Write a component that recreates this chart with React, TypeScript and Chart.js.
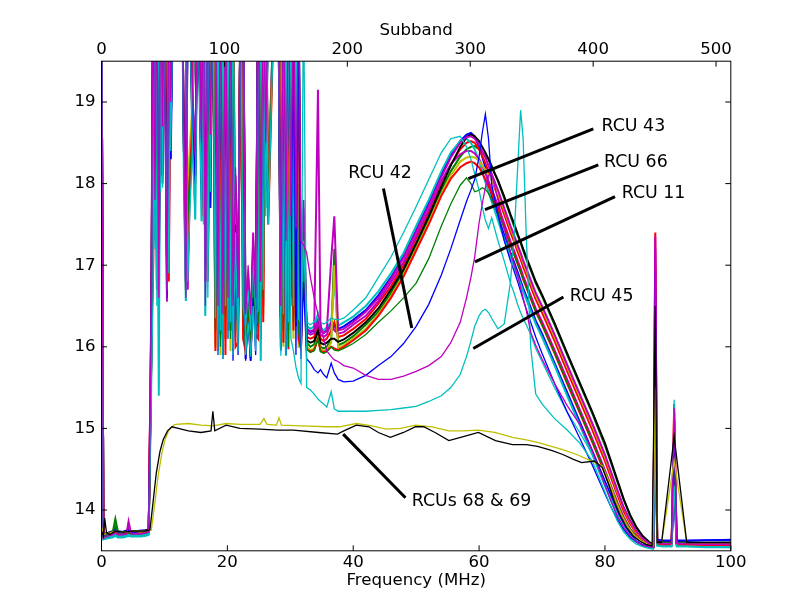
import React, { useEffect, useRef } from "react";
import { Chart, registerables } from "chart.js";

Chart.register(...registerables);

// value used for points that lie above the plotted range (RFI spikes)
const H = 20.5;

// ---- shared frequency grid (MHz) ----
const GRID_LOW = [0, 0.3, 1.0, 1.8, 2.2, 2.6, 3.4, 4.0, 4.3, 4.7, 5.5, 6.3, 7.0, 7.5];
const GRID_RFI1 = [7.9, 8.2, 8.5, 8.8, 9.1, 9.4, 9.7, 10.0, 10.4, 10.7, 11.0, 11.4, 11.8, 12.8, 13.1, 13.4, 13.7, 14.0, 14.4, 14.9, 15.3, 15.9, 16.2, 16.5, 16.9, 17.3, 17.7];
const GRID_RFI2 = [18.1, 18.5, 18.9, 19.3, 19.7, 20.1, 20.5, 20.9, 21.3, 21.7, 22.1, 22.5, 22.9, 23.3, 23.7, 24.1, 24.5, 24.9, 25.3, 25.7, 26.1, 26.5, 27.5, 28.1, 28.5, 28.9, 29.3, 29.7, 30.1, 30.5, 30.9, 31.3, 31.7, 32.1, 32.6, 33.2, 33.8, 34.4, 34.8, 35.3, 35.8, 36.5, 37.0, 37.6];
const GRID_BAND = [38.5, 40, 42, 44, 46, 48, 50, 52, 54, 55.5, 57, 58, 58.7, 59.3, 60, 60.5, 61, 61.5, 62, 63, 64, 65, 65.6, 66.2, 66.6, 67.0, 67.5, 68.2, 69, 70, 72, 74, 76, 78, 80, 81, 82, 83, 84, 85, 86, 87, 87.7, 88.0, 88.3, 89, 90.6, 91.0, 91.4, 93, 96, 100];
const FREQ = [...GRID_LOW, ...GRID_RFI1, ...GRID_RFI2, ...GRID_BAND];

// ---- typical RCUs (power, log units) ----
const RCU_01 = [
  H, 13.7, 13.72, 13.74, 13.78, 13.74, 13.73, 13.75, 13.76, 13.74, 13.74, 13.75, 13.75, 13.76,
  15.9, H, 17.8, H, 16.9, H, 18.1, H, 16.6, H, 18.3, H, H, H, 18.4, 17.2, H, H, 19.1, 18.3, H, 18.2, H, 17.1, H, 17.7, H,
  H, 16.0, H, 15.9, H, 16.2, H, 15.95, 17.9, 16.05, H, H, 15.85, 16.5, 15.83, 16.9, 16.1, H, 16.4, H, 17.9, H, H, H, 16.1, H, 16.05, H, 16.8, H, 16.25, H, 16.2, 17.4, 16.22, 16.18, 16.2, 16.35, 16.2, 16.17, 16.2, 16.3, 16.25, 16.22,
  16.25, 16.33, 16.45, 16.63, 16.85, 17.11, 17.43, 17.76, 18.12, 18.35, 18.52, 18.6, 18.62, 18.58, 18.45, 18.33, 18.2, 18.0, 17.85, 17.6, 17.37, 17.15, 17.03, 16.9, 16.81, 16.72, 16.62, 16.48, 16.32, 16.16, 15.8, 15.44, 15.08, 14.72, 14.35, 14.17, 13.98, 13.82, 13.7, 13.62, 13.57, 13.55, 13.55, 15.8, 13.63, 13.62, 13.62, 14.2, 13.62, 13.62, 13.63, 13.63,
];
const RCU_02 = [
  H, 13.68, 13.71, 13.73, 13.89, 13.74, 13.72, 13.73, 13.78, 13.73, 13.73, 13.74, 13.74, 13.75,
  15.7, 17.5, H, 16.8, H, 18.5, H, H, H, 17.4, H, H, H, H, H, H, 16.9, 18.3, 18.6, H, H, H, 18.1, H, 17.0, H, H,
  16.3, H, 16.1, H, 16.4, H, 16.2, H, 16.5, 16.4, H, 16.6, 16.2, 16.7, 16.1, 17.3, 16.4, 16.5, H, 16.9, H, 18.0, H, H, H, 16.3, H, 16.4, H, 16.6, H, 16.3, 16.05, 17.6, 16.05, 16.0, 16.03, 16.2, 16.0, 15.98, 16.0, 16.1, 17.2, 16.02,
  16.05, 16.13, 16.27, 16.43, 16.66, 16.93, 17.23, 17.57, 17.92, 18.15, 18.33, 18.42, 18.45, 18.46, 18.42, 18.38, 18.35, 18.3, 18.22, 18.03, 17.82, 17.6, 17.47, 17.35, 17.27, 17.18, 17.07, 16.94, 16.78, 16.62, 16.27, 15.9, 15.54, 15.18, 14.79, 14.57, 14.34, 14.12, 13.93, 13.78, 13.67, 13.6, 13.56, 16.6, 13.61, 13.6, 13.6, 14.9, 13.6, 13.6, 13.6, 13.6,
];
const RCU_03 = [
  H, 13.67, 13.69, 13.71, 13.73, 13.71, 13.71, 13.72, 13.73, 13.72, 13.72, 13.72, 13.73, 13.74,
  16.1, H, 17.9, H, 16.7, H, 18.7, H, 17.1, H, 19.0, H, H, H, 18.5, 16.7, H, H, 18.8, 18.0, H, 18.3, H, 16.8, H, 18.4, H,
  H, 15.95, H, 16.0, H, 16.3, H, 16.1, 18.0, 16.2, H, H, 16.0, 16.5, 15.95, 16.9, 16.2, H, 16.4, H, 18.0, H, H, H, 15.97, H, 16.1, H, 16.9, H, 16.3, H, 16.15, 17.5, 16.12, 16.1, 16.12, 16.3, 16.1, 16.07, 16.1, 16.2, 16.3, 16.12,
  16.14, 16.22, 16.34, 16.53, 16.74, 17.0, 17.33, 17.65, 18.0, 18.23, 18.42, 18.5, 18.52, 18.5, 18.42, 18.34, 18.25, 18.15, 18.05, 17.84, 17.62, 17.4, 17.28, 17.15, 17.07, 16.98, 16.88, 16.74, 16.58, 16.42, 16.07, 15.7, 15.34, 14.98, 14.6, 14.39, 14.18, 13.98, 13.83, 13.71, 13.63, 13.58, 13.56, 17.4, 13.59, 13.58, 13.58, 15.2, 13.58, 13.58, 13.57, 13.57,
];
const RCU_04 = [
  H, 13.64, 13.66, 13.67, 13.69, 13.67, 13.67, 13.68, 13.69, 13.68, 13.68, 13.68, 13.69, 13.7,
  15.5, H, 17.3, H, 15.4, H, 18.0, H, 16.8, H, 18.6, H, H, H, 18.0, 16.56, H, H, 18.7, 17.56, H, 17.54, H, 16.38, H, 18.0, H,
  H, 16.2, H, 16.1, H, 16.3, H, 16.0, 17.5, 16.2, H, H, 16.0, 16.5, 16.0, 16.9, 16.2, H, 15.83, H, 17.7, H, H, H, 16.0, H, 15.89, H, 16.6, H, 16.3, H, 16.25, 17.2, 16.26, 16.22, 16.25, 16.4, 16.24, 16.2, 16.24, 16.3, 16.8, 16.26,
  16.3, 16.37, 16.5, 16.68, 16.9, 17.15, 17.48, 17.8, 18.15, 18.38, 18.52, 18.55, 18.5, 18.42, 18.28, 18.15, 18.02, 17.9, 17.78, 17.55, 17.32, 17.1, 16.98, 16.85, 16.77, 16.68, 16.58, 16.44, 16.28, 16.12, 15.77, 15.4, 15.04, 14.68, 14.3, 14.12, 13.94, 13.79, 13.68, 13.61, 13.56, 13.54, 13.54, 15.4, 13.57, 13.56, 13.56, 14.4, 13.56, 13.56, 13.55, 13.55,
];
const RCU_05 = [
  H, 13.66, 13.68, 13.7, 13.72, 13.7, 13.7, 13.72, 13.86, 13.71, 13.71, 13.71, 13.72, 13.73,
  16.3, 17.0, H, 16.7, H, 18.1, H, H, H, 16.9, H, H, H, H, H, H, 16.7, 17.8, 18.6, H, H, H, 17.7, H, 16.8, H, H,
  16.2, H, 16.4, H, 16.1, H, 16.5, H, 17.2, 16.3, H, 16.7, 16.2, 16.8, 16.1, 17.2, 16.4, 16.3, H, 16.5, H, 17.9, H, H, H, 16.2, H, 16.5, H, 16.4, H, 16.3, 16.2, 17.7, 16.18, 16.15, 16.17, 16.3, 16.15, 16.12, 16.15, 16.3, 16.2, 16.16,
  16.18, 16.27, 16.38, 16.56, 16.79, 17.04, 17.36, 17.68, 18.03, 18.24, 18.36, 18.4, 18.4, 18.37, 18.3, 18.22, 18.13, 18.03, 17.93, 17.73, 17.51, 17.29, 17.17, 17.04, 16.96, 16.87, 16.77, 16.63, 16.47, 16.31, 15.96, 15.6, 15.23, 14.87, 14.49, 14.29, 14.09, 13.91, 13.77, 13.67, 13.61, 13.57, 13.55, 17.2, 13.6, 13.59, 13.59, 15.0, 13.59, 13.59, 13.59, 13.58,
];
const RCU_06 = [
  H, 13.69, 13.71, 13.72, 13.75, 13.72, 13.72, 13.73, 13.74, 13.73, 13.73, 13.73, 13.74, 13.75,
  16.0, 18.2, H, 17.0, H, 18.6, H, H, H, 17.6, H, H, H, H, H, H, 17.3, 18.4, 18.9, H, H, H, 17.9, H, 17.4, H, H,
  16.0, H, 15.9, H, 16.1, H, 15.95, H, 16.4, 16.1, H, 16.3, 15.9, 16.4, 15.95, 16.7, 16.1, 16.2, H, 16.4, H, 17.6, H, H, H, 16.0, H, 16.2, H, 16.1, H, 16.0, 16.0, 17.2, 16.0, 15.96, 15.98, 16.1, 15.97, 15.95, 15.97, 16.05, 17.0, 15.98,
  16.02, 16.1, 16.22, 16.4, 16.62, 16.88, 17.2, 17.52, 17.87, 18.1, 18.27, 18.32, 18.33, 18.32, 18.28, 18.22, 18.17, 18.1, 18.05, 17.88, 17.67, 17.45, 17.33, 17.2, 17.12, 17.03, 16.93, 16.79, 16.63, 16.47, 16.12, 15.75, 15.39, 15.03, 14.65, 14.44, 14.22, 14.02, 13.86, 13.73, 13.64, 13.59, 13.56, 16.0, 13.6, 13.59, 13.59, 14.7, 13.59, 13.59, 13.59, 13.59,
];
const RCU_07 = [
  H, 13.7, 13.72, 13.73, 13.76, 13.73, 13.73, 13.74, 13.75, 13.74, 13.74, 13.74, 13.75, 13.76,
  15.8, H, 17.9, H, 17.0, H, 18.6, H, 17.5, H, 18.7, H, H, H, 18.4, 17.3, H, H, 18.9, 18.1, H, 18.0, H, 17.0, H, 18.2, H,
  H, 16.35, H, 16.3, H, 16.5, H, 16.35, 17.8, 16.4, H, H, 16.3, 16.7, 16.2, 17.1, 16.4, H, 16.6, H, 18.2, H, H, H, 16.35, H, 16.3, H, 17.0, H, 16.35, H, 16.1, 17.6, 16.08, 16.05, 16.07, 16.2, 16.05, 16.03, 16.05, 16.1, 16.1, 16.06,
  16.09, 16.17, 16.3, 16.47, 16.7, 16.95, 17.27, 17.6, 17.96, 18.22, 18.45, 18.57, 18.6, 18.58, 18.52, 18.45, 18.38, 18.3, 18.2, 18.04, 17.84, 17.62, 17.5, 17.37, 17.29, 17.2, 17.1, 16.96, 16.8, 16.64, 16.29, 15.92, 15.56, 15.2, 14.82, 14.59, 14.36, 14.13, 13.94, 13.79, 13.68, 13.61, 13.57, 15.6, 13.61, 13.6, 13.6, 14.5, 13.6, 13.6, 13.6, 13.6,
];
const RCU_08 = [
  H, 13.66, 13.68, 13.7, 13.72, 13.7, 13.7, 13.71, 13.72, 13.71, 13.71, 13.71, 13.72, 13.73,
  16.2, 16.9, H, 17.2, H, 18.2, H, H, H, 16.8, H, H, H, H, H, H, 17.0, 18.0, 18.7, H, H, H, 17.6, H, 16.9, H, H,
  15.95, H, 16.15, H, 15.9, H, 16.2, H, 16.0, 16.05, H, 16.1, 15.95, 16.5, 15.9, 16.8, 16.15, 16.1, H, 16.3, H, 17.5, H, H, H, 16.05, H, 15.97, H, 16.2, H, 16.1, 15.98, 17.3, 15.97, 15.94, 15.96, 16.1, 15.95, 15.93, 15.95, 16.0, 15.98, 15.96,
  16.0, 16.08, 16.2, 16.38, 16.6, 16.86, 17.18, 17.5, 17.85, 18.06, 18.2, 18.25, 18.27, 18.25, 18.2, 18.13, 18.05, 17.97, 17.88, 17.68, 17.47, 17.25, 17.13, 17.0, 16.92, 16.83, 16.73, 16.59, 16.43, 16.27, 15.92, 15.55, 15.19, 14.83, 14.45, 14.25, 14.06, 13.89, 13.76, 13.67, 13.61, 13.57, 13.55, 17.0, 13.59, 13.58, 13.58, 15.3, 13.58, 13.58, 13.57, 13.57,
];
const RCU_09 = [
  H, 13.65, 13.67, 13.69, 13.71, 13.69, 13.69, 13.7, 13.8, 13.7, 13.7, 13.7, 13.71, 13.72,
  16.4, H, 17.8, H, 16.6, H, 18.5, H, 16.7, H, 18.8, H, H, H, 18.4, 16.8, H, H, 19.1, 18.3, H, 18.3, H, 16.8, H, 18.4, H,
  H, 16.4, H, 16.3, H, 16.6, H, 16.4, 18.1, 16.5, H, H, 16.3, 16.9, 16.2, 17.4, 16.5, H, 16.7, H, 18.4, H, H, H, 16.4, H, 16.4, H, 17.2, H, 16.45, H, 16.25, 17.8, 16.22, 16.19, 16.21, 19.15, 16.2, 16.17, 16.2, 17.07, 17.6, 16.2,
  16.22, 16.3, 16.43, 16.6, 16.83, 17.09, 17.41, 17.73, 18.08, 18.32, 18.5, 18.57, 18.58, 18.55, 18.48, 18.4, 18.32, 18.22, 18.12, 17.92, 17.7, 17.48, 17.36, 17.23, 17.15, 17.06, 16.96, 16.82, 16.66, 16.5, 16.15, 15.78, 15.42, 15.06, 14.68, 14.46, 14.24, 14.03, 13.87, 13.74, 13.65, 13.59, 13.56, 17.35, 13.6, 13.59, 13.59, 15.1, 13.59, 13.59, 13.58, 13.58,
];

// ---- labelled RCUs ----
const RCU_43 = [
  H, 13.67, 13.69, 13.71, 13.8, 13.71, 13.7, 13.71, 13.72, 13.71, 13.71, 13.71, 13.72, 13.73,
  15.8, 17.8, H, 17.1, H, 18.4, H, H, H, 17.3, H, H, H, H, H, H, 17.5, 18.1, 18.5, H, H, H, 17.8, H, 16.9, H, H,
  16.2, H, 16.0, H, 16.35, H, 16.1, H, 16.6, 16.2, H, 16.4, 16.0, 16.5, 16.05, 16.9, 16.2, 16.3, H, 16.6, H, 17.7, H, H, H, 16.2, H, 16.0, H, 16.3, H, 16.2, 15.98, 17.4, 15.97, 15.93, 15.95, 16.1, 15.94, 15.92, 15.94, 16.0, 15.96, 15.95,
  15.98, 16.04, 16.15, 16.3, 16.44, 16.6, 16.78, 17.08, 17.48, 17.75, 17.98, 18.07, 18.0, 17.9, 17.92, 17.95, 17.93, 17.88, 17.8, 17.65, 17.45, 17.24, 17.12, 17.0, 16.92, 16.83, 16.73, 16.59, 16.43, 16.27, 15.92, 15.56, 15.2, 14.84, 14.47, 14.28, 14.08, 13.9, 13.77, 13.67, 13.61, 13.57, 13.55, 16.4, 13.6, 13.6, 13.6, 14.8, 13.6, 13.6, 13.6, 13.6,
];
const RCU_66 = [
  H, 13.65, 13.67, 13.68, 13.7, 13.68, 13.68, 13.69, 13.7, 13.69, 13.69, 13.69, 13.7, 13.71,
  15.6, 16.6, H, 16.5, H, 17.9, H, H, H, 16.9, H, H, H, H, H, H, 16.8, 17.6, 18.3, H, H, H, 17.5, H, 16.6, H, H,
  16.35, H, 16.2, H, 16.5, H, 16.3, H, 16.9, 16.35, H, 16.5, 16.25, 16.7, 16.2, 17.1, 16.4, 16.45, H, 16.7, H, 17.5, H, H, H, 16.4, H, 16.3, H, 16.5, H, 16.35, 16.3, 17.3, 16.3, 16.27, 16.3, 16.4, 16.3, 16.28, 16.3, 16.35, 16.34, 16.33,
  16.35, 16.45, 16.6, 16.85, 17.1, 17.4, 17.72, 18.05, 18.38, 18.55, 18.58, 18.45, 18.3, 18.12, 17.92, 17.72, 17.55, 17.45, 17.58, 17.3, 17.05, 16.78, 16.65, 16.5, 16.42, 16.35, 16.27, 16.15, 15.98, 15.82, 15.5, 15.2, 14.95, 14.68, 14.3, 14.1, 13.9, 13.76, 13.66, 13.6, 13.56, 13.54, 13.53, 15.0, 13.56, 13.55, 13.55, 15.35, 13.55, 13.55, 13.55, 13.54,
];
const RCU_42 = [
  H, 13.69, 13.71, 13.73, 13.76, 13.73, 13.72, 13.74, 13.75, 13.73, 13.73, 13.74, 13.74, 13.75,
  15.9, H, 17.6, H, 16.8, H, 18.0, H, 16.56, H, 18.3, H, H, H, 18.2, 16.9, H, H, 18.8, 18.0, H, 17.8, H, 16.9, H, 17.7, H,
  H, 15.9, H, 15.85, H, 16.1, H, 15.83, 17.5, 15.9, H, H, 15.83, 16.3, 15.83, 16.6, 15.9, H, 16.1, H, 17.93, H, H, H, 15.95, H, 15.9, H, 16.5, H, 15.9, H, 15.85, 16.8, 15.85, 15.8, 15.72, 15.68, 15.72, 15.66, 15.62, 15.8, 15.68, 15.6,
  15.57, 15.58, 15.65, 15.77, 15.88, 16.04, 16.25, 16.52, 16.88, 17.2, 17.55, 17.78, 17.92, 18.05, 18.33, 18.62, 18.85, 18.55, 17.99, 17.62, 17.3, 17.05, 16.92, 16.78, 16.68, 16.58, 16.46, 16.3, 16.12, 15.92, 15.55, 15.2, 14.88, 14.55, 14.2, 14.03, 13.88, 13.76, 13.67, 13.61, 13.57, 13.55, 13.55, 16.9, 13.64, 13.63, 13.63, 14.9, 13.63, 13.63, 13.63, 13.64,
];
const RCU_45 = [
  H, 13.64, 13.65, 13.66, 13.68, 13.66, 13.66, 13.67, 13.68, 13.67, 13.67, 13.67, 13.68, 13.69,
  15.4, H, 17.2, H, 15.5, H, 17.95, H, 16.7, H, 18.4, H, H, H, 17.9, 16.56, H, H, 18.6, 17.56, H, 17.54, H, 16.38, H, 17.9, H,
  H, 15.9, H, 15.85, H, 16.1, H, 15.9, 17.4, 15.95, H, H, 15.9, 16.3, 15.88, 16.5, 15.95, H, 15.83, H, 17.6, H, H, H, 15.89, H, 15.9, H, 16.1, 15.95, 15.75, 15.62, 15.55, H, 15.5, 15.47, 15.42, 15.36, 15.33, 15.3, 15.26, 15.45, 15.24, 15.21,
  15.21, 15.21, 15.21, 15.22, 15.23, 15.25, 15.27, 15.33, 15.4, 15.5, 15.66, 15.88, 16.07, 16.25, 16.38, 16.44, 16.46, 16.42, 16.35, 16.22, 16.28, 16.8, 17.4, 18.3, 18.9, 18.55, 17.35, 16.0, 15.42, 15.3, 15.12, 14.98, 14.82, 14.6, 14.22, 14.03, 13.86, 13.73, 13.64, 13.58, 13.55, 13.53, 13.52, 14.8, 13.56, 13.55, 13.55, 14.3, 13.55, 13.55, 13.54, 13.54,
];
const RCU_11 = [
  H, 13.66, 13.68, 13.7, 13.72, 13.7, 13.7, 13.71, 13.84, 13.71, 13.71, 13.71, 13.72, 13.73,
  16.2, H, 17.8, H, 16.6, H, 18.7, H, 16.55, H, 19.0, H, H, H, 18.5, 16.6, H, H, 19.3, 18.4, H, 18.5, H, 16.5, H, 18.6, H,
  H, 16.5, H, 16.4, H, 16.6, H, 16.5, 18.2, 16.6, H, H, 16.4, 17.0, 16.4, 17.3, 16.6, H, 16.8, H, 18.5, H, H, H, 16.5, H, 17.3, H, 17.6, H, 17.45, H, 17.3, 17.25, 17.15, 16.85, 16.6, 16.4, 16.3, 16.1, 15.95, 15.88, 15.84, 15.82,
  15.77, 15.74, 15.65, 15.6, 15.6, 15.64, 15.7, 15.77, 15.88, 16.05, 16.3, 16.6, 16.85, 17.1, 17.52, 17.75, 17.95, 18.1, 18.12, 17.8, 17.45, 17.15, 17.0, 16.85, 16.72, 16.6, 16.45, 16.18, 16.02, 15.85, 15.55, 15.28, 15.05, 14.72, 14.3, 14.1, 13.92, 13.78, 13.68, 13.61, 13.57, 13.55, 13.54, 17.3, 13.6, 13.59, 13.59, 15.25, 13.59, 13.59, 13.59, 13.59,
];

// ---- RCUs 68 & 69 (own frequency samples) ----
const FREQ_69 = [0, 0.3, 1.3, 2.2, 3.5, 5, 6.5, 7.5, 7.9, 8.5, 9.0, 9.6, 10.1, 10.7, 11.5, 11.8, 13.8, 15.8, 17.8, 19.8, 22, 25.2, 25.8, 26.3, 27.8, 28.2, 28.6, 31.8, 35.8, 37.8, 40.5, 43, 45.2, 47.5, 49.9, 52.5, 55.2, 57.5, 59.9, 62.5, 65.3, 67.5, 69.3, 71.5, 73.3, 75.5, 77.9, 79.6, 80.8, 81.8, 82.8, 83.8, 84.8, 85.8, 86.8, 87.6, 88.0, 88.3, 89, 91, 93, 96, 100];
const RCU_69 = [13.8, 13.7, 13.72, 13.74, 13.73, 13.74, 13.74, 13.75, 13.75, 14.1, 14.42, 14.7, 14.86, 14.98, 15.04, 15.05, 15.06, 15.04, 15.03, 15.06, 15.05, 15.05, 15.12, 15.05, 15.04, 15.13, 15.04, 15.03, 15.02, 15.02, 15.06, 15.03, 14.99, 15.0, 15.04, 15.02, 14.97, 14.97, 14.98, 14.95, 14.89, 14.86, 14.83, 14.78, 14.74, 14.68, 14.6, 14.54, 14.32, 14.1, 13.92, 13.78, 13.68, 13.62, 13.58, 13.56, 15.5, 13.6, 13.6, 14.6, 13.6, 13.6, 13.6];
const FREQ_68 = [0, 0.3, 0.5, 0.8, 1.3, 2.2, 3.5, 5, 6.5, 7.5, 7.7, 8.2, 8.7, 9.3, 9.8, 10.5, 11.2, 12.2, 13.8, 15.8, 17.4, 17.7, 18.0, 19.8, 22, 25.2, 28, 30.5, 34.5, 37.5, 38.5, 40.5, 42.5, 44, 45.9, 48, 49.9, 51.2, 53, 55.2, 57.5, 59.9, 62.6, 65.3, 67.5, 69.3, 71.5, 73.3, 75, 76.3, 78.3, 79.6, 80.5, 81.5, 82.5, 83.5, 84.5, 85.5, 86.5, 87.5, 88.0, 88.3, 89, 91, 93, 96, 100];
const RCU_68 = [13.75, 13.68, 13.9, 13.72, 13.7, 13.74, 13.73, 13.74, 13.74, 13.75, 13.76, 14.1, 14.45, 14.72, 14.86, 14.97, 15.02, 15.0, 14.97, 14.95, 14.97, 15.21, 14.97, 15.04, 15.0, 14.99, 14.98, 14.98, 14.95, 14.93, 14.97, 15.04, 15.02, 14.95, 14.89, 14.95, 15.02, 15.02, 14.95, 14.85, 14.9, 14.95, 14.85, 14.8, 14.8, 14.78, 14.73, 14.68, 14.62, 14.58, 14.6, 14.52, 14.33, 14.1, 13.92, 13.78, 13.68, 13.62, 13.58, 13.56, 16.5, 13.6, 13.6, 14.9, 13.6, 13.6, 13.6];

// ---- axes ----
const FREQ_TICKS = [0, 20, 40, 60, 80, 100];
const SUBBAND_TICKS = [0, 100, 200, 300, 400, 500];
const POWER_TICKS = [14, 15, 16, 17, 18, 19];

// ---- annotations (data coordinates) ----
const ANN_TEXT = ["RCU 43", "RCU 66", "RCU 11", "RCU 45", "RCU 42", "RCUs 68 & 69"];
const ANN_TEXT_AT = [[79.45, 18.7], [79.85, 18.26], [82.66, 17.88], [74.4, 16.62], [39.2, 18.13], [49.3, 14.11]];
const ANN_FROM = [[78.15, 18.67], [78.95, 18.23], [81.6, 17.84], [73.4, 16.61], [44.8, 17.94], [48.3, 14.15]];
const ANN_TO = [[58.3, 18.06], [60.94, 17.68], [59.35, 17.04], [59.08, 15.98], [49.3, 16.23], [38.4, 14.93]];

const C = { b: "#0000ff", g: "#008000", r: "#ff0000", c: "#00bfbf", m: "#bf00bf", y: "#bfbf00", k: "#000000" };

// listed in drawing order (first = bottom, last = top)
const SERIES = [
  { name: "RCU a", xs: FREQ, ys: RCU_01, color: C.b, w: 2 },
  { name: "RCU b", xs: FREQ, ys: RCU_02, color: C.g, w: 2 },
  { name: "RCU c", xs: FREQ, ys: RCU_03, color: C.r, w: 2 },
  { name: "RCU d", xs: FREQ, ys: RCU_04, color: C.c, w: 2 },
  { name: "RCU e", xs: FREQ, ys: RCU_05, color: C.m, w: 2 },
  { name: "RCU f", xs: FREQ, ys: RCU_06, color: C.y, w: 2 },
  { name: "RCU g", xs: FREQ, ys: RCU_07, color: C.k, w: 2 },
  { name: "RCU h", xs: FREQ, ys: RCU_08, color: C.r, w: 2 },
  { name: "RCU i", xs: FREQ, ys: RCU_09, color: C.m, w: 2 },
  { name: "RCU 43", xs: FREQ, ys: RCU_43, color: C.g, w: 1.3 },
  { name: "RCU 66", xs: FREQ, ys: RCU_66, color: C.c, w: 1.3 },
  { name: "RCU 42", xs: FREQ, ys: RCU_42, color: C.b, w: 1.3 },
  { name: "RCU 45", xs: FREQ, ys: RCU_45, color: C.c, w: 1.3 },
  { name: "RCU 11", xs: FREQ, ys: RCU_11, color: C.m, w: 1.3 },
  { name: "RCU 69", xs: FREQ_69, ys: RCU_69, color: C.y, w: 1.3 },
  { name: "RCU 68", xs: FREQ_68, ys: RCU_68, color: C.k, w: 1.3 },
];

const FONT_FAMILY = '"DejaVu Sans", Verdana, sans-serif';
const FONT = { family: FONT_FAMILY, size: 16.6 };
const ANN_FONT_SIZE = 17.4;

const framePlugin = {
  id: "frame",
  beforeDraw(chart: any) {
    const ctx = chart.ctx;
    ctx.save();
    ctx.fillStyle = "#ffffff";
    ctx.fillRect(0, 0, chart.width, chart.height);
    ctx.restore();
  },
  afterDatasetsDraw(chart: any) {
    const { ctx, chartArea: a, scales } = chart;
    const sx = scales.x, sy = scales.y, s2 = scales.x2;
    ctx.save();
    ctx.strokeStyle = "#000";
    ctx.lineWidth = 3;
    ctx.lineCap = "butt";
    for (let i = 0; i < ANN_TEXT.length; i++) {
      ctx.beginPath();
      ctx.moveTo(sx.getPixelForValue(ANN_FROM[i][0]), sy.getPixelForValue(ANN_FROM[i][1]));
      ctx.lineTo(sx.getPixelForValue(ANN_TO[i][0]), sy.getPixelForValue(ANN_TO[i][1]));
      ctx.stroke();
    }
    ctx.fillStyle = "#000";
    ctx.font = `${ANN_FONT_SIZE}px ${FONT_FAMILY}`;
    ctx.textAlign = "left";
    ctx.textBaseline = "middle";
    for (let i = 0; i < ANN_TEXT.length; i++) {
      ctx.fillText(ANN_TEXT[i], sx.getPixelForValue(ANN_TEXT_AT[i][0]), sy.getPixelForValue(ANN_TEXT_AT[i][1]));
    }
    ctx.lineWidth = 1;
    ctx.strokeRect(a.left, a.top, a.right - a.left, a.bottom - a.top);
    const tl = 5.5;
    ctx.beginPath();
    FREQ_TICKS.forEach((v) => {
      const px = sx.getPixelForValue(v);
      ctx.moveTo(px, a.bottom);
      ctx.lineTo(px, a.bottom - tl);
    });
    SUBBAND_TICKS.forEach((v) => {
      const px = s2.getPixelForValue(v);
      ctx.moveTo(px, a.top);
      ctx.lineTo(px, a.top + tl);
    });
    POWER_TICKS.forEach((v) => {
      const py = sy.getPixelForValue(v);
      ctx.moveTo(a.left, py);
      ctx.lineTo(a.left + tl, py);
      ctx.moveTo(a.right, py);
      ctx.lineTo(a.right - tl, py);
    });
    ctx.stroke();
    ctx.restore();
  },
};

export default function App() {
  const ref = useRef<HTMLCanvasElement | null>(null);
  useEffect(() => {
    document.body.style.margin = "0";
    const canvas = ref.current;
    if (!canvas) return;
    // Chart.js paints dataset 0 last (on top), so reverse the drawing order list
    const datasets = SERIES.slice().reverse().map((s) => ({
      label: s.name,
      data: s.xs.map((x, i) => ({ x, y: s.ys[i] })),
      borderColor: s.color,
      backgroundColor: s.color,
      borderWidth: s.w,
      pointRadius: 0,
      pointHoverRadius: 0,
      fill: false,
      tension: 0,
      clip: 0,
      xAxisID: "x",
      yAxisID: "y",
    }));
    const chart = new Chart(canvas, {
      type: "line",
      data: { datasets },
      plugins: [framePlugin],
      options: {
        animation: false,
        responsive: false,
        devicePixelRatio: 1,
        events: [],
        layout: { padding: { left: 0, right: 81.2, top: 0, bottom: 0 } },
        plugins: { legend: { display: false }, tooltip: { enabled: false } },
        scales: {
          x: {
            type: "linear",
            position: "bottom",
            min: 0,
            max: 100,
            grid: { display: false, drawTicks: false },
            border: { display: false },
            afterBuildTicks: (s: any) => { s.ticks = FREQ_TICKS.map((v) => ({ value: v })); },
            afterFit: (s: any) => { s.height = 61.2; },
            ticks: { color: "#000", font: FONT, padding: 2, maxRotation: 0, autoSkip: false },
            title: { display: true, text: "Frequency (MHz)", color: "#000", font: FONT, padding: { top: 0, bottom: 21 } },
          },
          x2: {
            type: "linear",
            position: "top",
            min: 0,
            max: 512,
            grid: { display: false, drawTicks: false },
            border: { display: false },
            afterBuildTicks: (s: any) => { s.ticks = SUBBAND_TICKS.map((v) => ({ value: v })); },
            afterFit: (s: any) => { s.height = 61.2; },
            ticks: { color: "#000", font: FONT, padding: 2, maxRotation: 0, autoSkip: false },
            title: { display: true, text: "Subband", color: "#000", font: FONT, padding: { top: 21, bottom: 0 } },
          },
          y: {
            type: "linear",
            position: "left",
            min: 13.5,
            max: 19.5,
            grid: { display: false, drawTicks: false },
            border: { display: false },
            afterBuildTicks: (s: any) => { s.ticks = POWER_TICKS.map((v) => ({ value: v })); },
            afterFit: (s: any) => { s.width = 101.5; },
            ticks: { color: "#000", font: FONT, padding: 6, autoSkip: false },
          },
        },
      },
    } as any);
    return () => chart.destroy();
  }, []);
  return (
    <div style={{ width: 812, height: 612, position: "relative", background: "#fff" }}>
      <canvas ref={ref} width={812} height={612} style={{ display: "block", width: 812, height: 612 }} />
    </div>
  );
}
